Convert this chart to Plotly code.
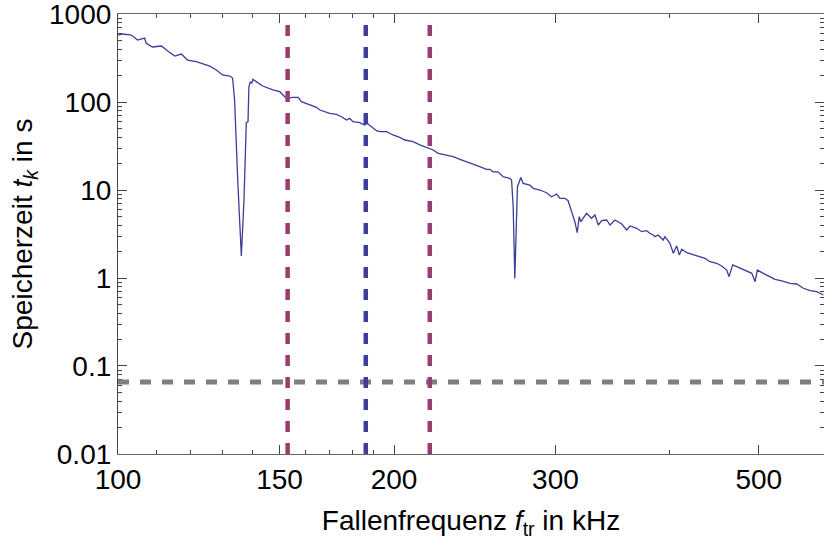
import plotly.graph_objects as go
import math

# --- data ---
freq_khz = [100.0, 101.2, 103.4, 105.0, 106.9, 107.3, 109.0, 111.5, 113.2, 115.3,
            117.2, 119.1, 121.7, 123.7, 125.9, 128.0, 130.0, 132.4, 133.3, 133.5,
            134.0, 135.1, 136.3, 137.2, 137.8, 138.0, 138.6, 138.9, 139.4, 139.9,
            140.3, 143.8, 147.5, 150.1, 152.0, 152.6, 155.1, 157.2, 158.5, 160.5,
            162.5, 164.6, 166.0, 168.1, 170.2, 173.1, 175.3, 177.5, 178.9, 180.4,
            183.5, 185.8, 186.9, 189.0, 191.4, 193.0, 196.3, 199.5, 202.9, 205.5,
            209.8, 213.4, 217.0, 220.7, 223.5, 228.2, 232.0, 236.0, 240.0, 244.0,
            248.1, 252.3, 254.4, 256.5, 259.7, 263.0, 267.5, 268.7, 269.8, 270.9,
            272.0, 272.7, 275.0, 276.6, 281.3, 283.7, 288.5, 293.4, 297.1, 300.9,
            303.4, 307.2, 309.7, 312.4, 315.0, 316.9, 318.5, 319.8, 324.4, 328.5,
            331.3, 334.1, 337.0, 341.2, 344.1, 348.4, 354.3, 358.8, 361.8, 367.9,
            372.6, 377.2, 380.3, 383.5, 385.2, 388.4, 393.3, 395.0, 400.0, 403.4,
            406.8, 409.5, 412.0, 417.2, 424.2, 431.3, 436.8, 442.3, 449.8, 455.5,
            461.3, 464.0, 468.3, 475.0, 483.1, 491.3, 495.4, 498.2, 505.7, 514.3,
            520.8, 529.7, 540.9, 550.1, 559.3, 568.8, 578.4, 588.1]
storage_s = [577, 593, 577, 506, 533, 468, 422, 433, 383, 333,
             351, 300, 287, 270, 256, 231, 203, 197, 187, 163,
             105, 12, 1.78, 7.7, 28.5, 58.2, 59.7, 149, 170, 163,
             181, 152, 137, 131, 114.9, 110.2, 113.1, 113.1, 100.8, 96.6,
             92.4, 87.1, 81.1, 77.6, 74.4, 72.5, 68.1, 62.4, 65.3, 59.7,
             58.2, 54.8, 57.3, 52.4, 47.2, 46.0, 46.0, 42.2, 39.7, 37.0,
             35.4, 32.5, 30.3, 28.5, 26.1, 25.0, 23.9, 22.3, 21.0, 19.7,
             18.4, 17.2, 17.2, 16.1, 16.1, 14.2, 13.6, 13.0, 6.46, 0.99,
             4.18, 10.9, 13.9, 11.9, 11.4, 10.45, 10.0, 9.31, 8.39, 9.0,
             8.05, 8.05, 7.56, 5.67, 4.36, 3.27, 4.98, 4.36, 5.43, 4.77,
             5.2, 4.0, 4.48, 4.56, 4.0, 4.56, 4.11, 3.51, 3.90, 3.67,
             3.36, 3.45, 3.22, 3.08, 2.95, 3.08, 2.70, 2.95, 2.48, 1.91,
             2.31, 1.83, 2.12, 1.94, 1.83, 1.72, 1.67, 1.53, 1.47, 1.37,
             1.23, 1.035, 1.41, 1.32, 1.23, 1.13, 0.908, 1.23, 1.13, 1.035,
             0.966, 0.925, 0.871, 0.855, 0.764, 0.717, 0.699, 0.641]

outer_lines_khz = [153.1, 218.8]
center_line_khz = [186.3]
limit_time_s = [0.0658]

x_ticks = [100, 150, 200, 300, 500]
x_tick_text = ["100", "150", "200", "300", "500"]
x_minor = [110, 120, 130, 140, 160, 170, 180, 190, 400]
y_ticks = [0.01, 0.1, 1, 10, 100, 1000]
y_tick_text = ["0.01", "0.1", "1", "10", "100", "1000"]
y_minor = [m * 10.0 ** e for e in range(-2, 3) for m in range(2, 10)]

x_range_khz = [99.98, 589]
y_range_s = [0.009995, 1000.6]

FONT = "Liberation Sans, Arial, sans-serif"
LINE_BLUE = "#3d3d99"
MAGENTA = "#993d71"
GRAY = "#7f7f7f"

fig = go.Figure()
fig.add_trace(go.Scatter(x=freq_khz, y=storage_s, mode="lines",
                         line=dict(color=LINE_BLUE, width=1.3),
                         showlegend=False, hoverinfo="skip"))

shapes = []
for t in limit_time_s:
    shapes.append(dict(type="line", xref="paper", yref="y", x0=0, x1=1, y0=t, y1=t,
                       line=dict(color=GRAY, width=5, dash="11px,11px")))
for f in outer_lines_khz:
    shapes.append(dict(type="line", xref="x", yref="paper", x0=f, x1=f, y0=0, y1=1,
                       line=dict(color=MAGENTA, width=4.5, dash="11px,11px")))
for f in center_line_khz:
    shapes.append(dict(type="line", xref="x", yref="paper", x0=f, x1=f, y0=0, y1=1,
                       line=dict(color=LINE_BLUE, width=4.5, dash="11px,11px")))

fig.update_layout(
    width=824, height=541,
    margin=dict(l=118, r=0, t=14, b=87),
    paper_bgcolor="white", plot_bgcolor="white",
    font=dict(family=FONT, color="black", size=28),
    shapes=shapes,
)
fig.update_xaxes(
    type="log", range=[math.log10(x_range_khz[0]), math.log10(x_range_khz[1])],
    tickvals=x_ticks, ticktext=x_tick_text,
    ticks="inside", ticklen=9, tickwidth=1, tickcolor="#444",
    showline=True, linecolor="#666", linewidth=1.2, mirror="allticks",
    showgrid=False, zeroline=False, ticklabeloverflow="allow",
    tickfont=dict(size=28, family=FONT),
    minor=dict(tickvals=x_minor, ticks="inside", ticklen=4, tickcolor="#444", showgrid=False),
    title=dict(text="Fallenfrequenz <i>f</i><sub>tr</sub> in kHz",
               font=dict(size=28, family=FONT), standoff=16),
)
fig.update_yaxes(
    type="log", range=[math.log10(y_range_s[0]), math.log10(y_range_s[1])],
    tickvals=y_ticks, ticktext=y_tick_text,
    ticks="inside", ticklen=9, tickwidth=1, tickcolor="#444",
    showline=True, linecolor="#444", linewidth=1.2, mirror="allticks",
    showgrid=False, zeroline=False, ticklabeloverflow="allow",
    tickfont=dict(size=28, family=FONT),
    minor=dict(tickvals=y_minor, ticks="inside", ticklen=4, tickcolor="#444", showgrid=False),
    title=dict(text="Speicherzeit <i>t</i><sub><i>k</i></sub> in s",
               font=dict(size=28, family=FONT), standoff=8),
)

fig.write_html("out.html")
